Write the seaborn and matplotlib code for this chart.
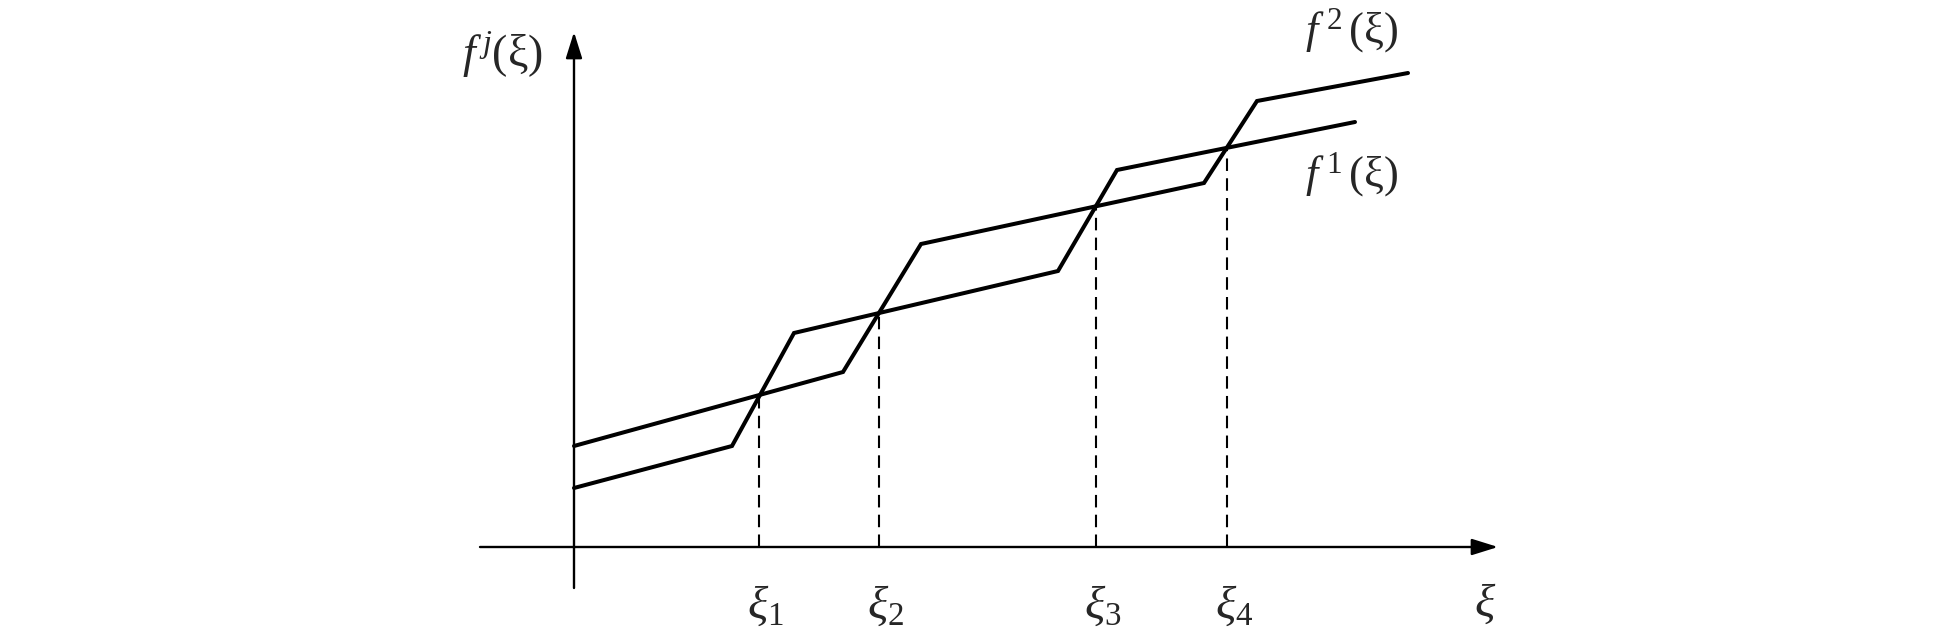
import matplotlib.pyplot as plt
import seaborn as sns
import numpy as np
import pandas as pd

# piecewise-linear curves (origin at axis crossing)
f1_x = [0.00, 1.58, 2.20, 4.84, 5.43, 7.81]
f1_y = [0.59, 1.01, 2.14, 2.76, 3.77, 4.25]

f2_x = [0.00, 2.69, 3.47, 6.30, 6.83, 8.34]
f2_y = [1.01, 1.75, 3.03, 3.64, 4.46, 4.74]

# crossing points
xi_x = [1.85, 3.05, 5.22, 6.53]
xi_labels = [r"$\xi_1$", r"$\xi_2$", r"$\xi_3$", r"$\xi_4$"]


def plot_curves():

    sns.set_style("white")
    plt.rcParams["mathtext.fontset"] = "custom"
    plt.rcParams["mathtext.rm"] = "Liberation Serif"
    plt.rcParams["mathtext.it"] = "Liberation Serif:italic"
    plt.rcParams["font.family"] = ["Liberation Serif", "DejaVu Serif"]

    fig = plt.figure(figsize=(19.49, 6.43), dpi=100)
    ax = fig.add_axes([0, 0, 1, 1])

    df = pd.concat([
        pd.DataFrame({"x": f1_x, "y": f1_y, "curve": "f1"}),
        pd.DataFrame({"x": f2_x, "y": f2_y, "curve": "f2"}),
    ])

    sns.lineplot(
        data=df, x="x", y="y", units="curve", estimator=None,
        sort=False, color="black", linewidth=2.9, ax=ax,
        solid_joinstyle="miter"
    )

    # dashed drop lines at the crossings
    for x, lab in zip(xi_x, xi_labels):
        yc = np.interp(x, f1_x, f1_y)
        ax.plot([x, x], [0, yc], color="black", lw=1.5,
                linestyle=(0, (6, 3.5)))
        ax.text(x - 0.12, -0.6, lab, fontsize=34, ha="left", va="center")

    # axes with arrows
    arrow = dict(arrowstyle="-|>,head_length=0.8,head_width=0.25",
                 lw=1.7, color="black", mutation_scale=20,
                 shrinkA=0, shrinkB=0)
    ax.annotate("", xy=(9.24, 0), xytext=(-0.94, 0), arrowprops=arrow)
    ax.annotate("", xy=(0, 5.15), xytext=(0, -0.41), arrowprops=arrow)

    ax.text(-0.72, 4.92, r"$f^{\,j}(\mathrm{\xi})$", fontsize=33,
            ha="center", va="center")
    ax.text(9.11, -0.58, r"$\xi$", fontsize=34, ha="center", va="center")
    ax.text(7.31, 5.16, r"$f^{\;2}\,(\mathrm{\xi})$", fontsize=32,
            ha="left", va="center")
    ax.text(7.31, 3.72, r"$f^{\;1}\,(\mathrm{\xi})$", fontsize=32,
            ha="left", va="center")

    ax.set_xlim(-5.74, 13.75)
    ax.set_ylim(-0.96, 5.47)
    ax.axis("off")

    plt.savefig("out.png", dpi=100)
    plt.close()


if __name__ == "__main__":
    plot_curves()
